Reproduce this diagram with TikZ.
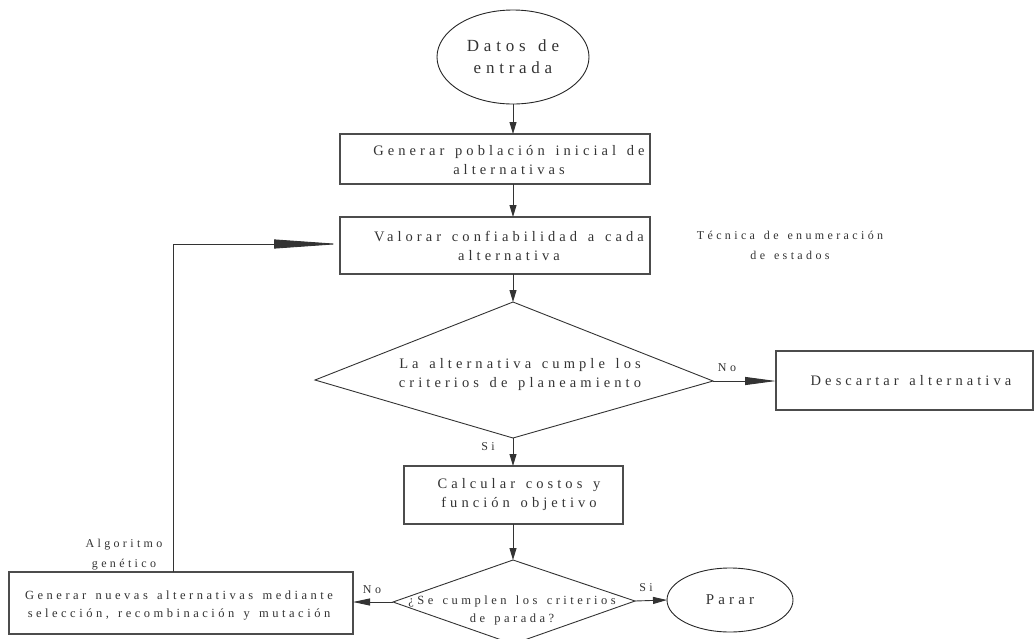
\documentclass[tikz,border=0pt]{standalone}
\usepackage{fontspec}
\setmainfont{Liberation Serif}[LetterSpace=28,WordSpace=1.4]
\usetikzlibrary{arrows.meta,shapes.geometric}
\begin{document}
\begin{tikzpicture}[x=1pt,y=-1pt,
  ln/.style={draw=black!80, line width=0.9pt},
  boxnode/.style={draw=black!70, line width=1.1pt, rectangle, inner sep=0pt, outer sep=0pt},
  ellnode/.style={draw=black!85, line width=0.9pt, ellipse, inner sep=0pt, outer sep=0pt, align=center, text=black!80},
  txt/.style={align=center, inner sep=0pt, text=black!80, font=\fontsize{14.5}{19}\selectfont},
  midtxt/.style={align=center, inner sep=0pt, text=black!80, font=\fontsize{12.5}{18}\selectfont},
  smalltxt/.style={align=center, inner sep=0pt, text=black!80, font=\fontsize{12}{20}\selectfont},
  arr/.style={ln, -{Triangle[length=#1, width=7pt]}},
]
\useasboundingbox (0,0) rectangle (1034,638);

% start
\node[ellnode, minimum width=152pt, minimum height=94pt, font=\fontsize{17}{22}\selectfont] (e1) at (513,57) {Datos de\\entrada};

% boxes
\node[boxnode, minimum width=310pt, minimum height=50pt] (b1) at (495,159) {};
\node[txt] (b1t) at (509,160) {Generar población inicial de\\alternativas};

\node[boxnode, minimum width=310pt, minimum height=57pt] (b2) at (495,245.5) {};
\node[txt] (b2t) at (509,246) {Valorar confiabilidad a cada\\alternativa};

% decision 1
\coordinate (d1t) at (513,302);
\coordinate (d1l) at (315,380);
\coordinate (d1r) at (713,381);
\coordinate (d1b) at (513,438);
\draw[ln] (d1t) -- (d1r) -- (d1b) -- (d1l) -- cycle;
\node[txt] (d1x) at (520,375) {La alternativa cumple los\\criterios de planeamiento};

\node[boxnode, minimum width=257pt, minimum height=59pt] (b5) at (904.5,380.5) {};
\node[txt] (b5t) at (911,381) {Descartar alternativa};

\node[boxnode, minimum width=219pt, minimum height=58pt] (b3) at (513.5,495) {};
\node[txt] (b3t) at (519,495) {Calcular costos y\\función objetivo};

% decision 2
\coordinate (d2t) at (513,560);
\coordinate (d2l) at (393,602);
\coordinate (d2r) at (635,601);
\coordinate (d2b) at (513,644);
\draw[ln] (d2t) -- (d2r) -- (d2b) -- (d2l) -- cycle;
\node[midtxt] (d2x) at (512,610) {¿Se cumplen los criterios\\de parada?};

\node[boxnode, minimum width=344pt, minimum height=62pt] (b4) at (181,603) {};
\node[midtxt] (b4t) at (179,606) {Generar nuevas alternativas mediante\\selección, recombinación y mutación};

\node[ellnode, minimum width=126pt, minimum height=64pt, font=\fontsize{15}{19}\selectfont] (e2) at (730,600) {Parar};

% labels
\node[smalltxt] (lno1) at (727,368) {No};
\node[smalltxt] (lsi1) at (488,447) {Si};
\node[smalltxt] (lno2) at (372,590) {No};
\node[smalltxt] (lsi2) at (646,588) {Si};
\node[smalltxt] (ltec) at (790,245) {Técnica de enumeración\\de estados};
\node[smalltxt] (lalg) at (124,555) {Algoritmo\\genético};

% connectors
\draw[arr=12pt] (e1.south) -- (b1.north -| e1.south);
\draw[arr=12pt] (b1.south -| e1.south) -- (b2.north -| e1.south);
\draw[arr=12pt] (b2.south -| d1t) -- (d1t);
\draw[ln, -{Triangle[length=31pt, width=8pt]}] (d1r) -- (b5.west |- d1r);
\draw[arr=12pt] (d1b) -- (b3.north -| d1b);
\draw[arr=12pt] (b3.south -| d2t) -- (d2t);
\draw[arr=17pt] (d2l) -- (b4.east |- d2l);
\draw[arr=14pt] (d2r) -- (e2.west);
\coordinate (lp) at (173,244);
\draw[ln, -{Triangle[length=66pt, width=9pt]}] (b4.north -| lp) -- (lp) -- (lp -| b2.west);
\end{tikzpicture}
\end{document}
